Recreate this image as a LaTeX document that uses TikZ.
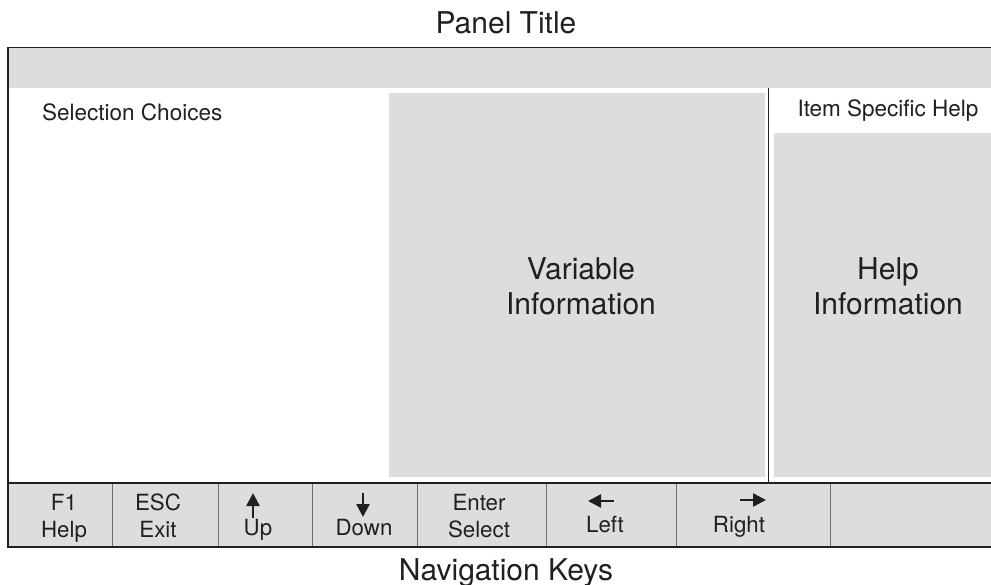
\documentclass[tikz,border=0pt]{standalone}
\usepackage{fontspec}
\setmainfont{TeX Gyre Heros}
\usepackage{tikz}
\usetikzlibrary{arrows.meta, positioning}
\definecolor{panelgray}{RGB}{220,221,223}
\definecolor{ink}{RGB}{35,31,32}
\tikzset{x=1pt, y=-1pt, panel/.style={fill=panelgray, draw=none, inner sep=0pt, anchor=north west}, label/.style={text=ink, inner sep=0pt, anchor=base, align=center}, bigtext/.style={label, font=\fontsize{30}{35}\selectfont}, midtext/.style={label, font=\fontsize{22.5}{27}\selectfont}, keytext/.style={label, font=\fontsize{22.3}{27}\selectfont}, frame/.style={draw=ink, line width=1.3pt}, keyline/.style={draw=ink!65, line width=1pt}, keyarrow/.style={draw=ink, line width=2.5pt, -{Triangle[width=13pt, length=13pt]}}}

\begin{document}
\begin{tikzpicture}
	\useasboundingbox[fill=white] (0,0) rectangle (991,585);
	\node[panel, minimum width=1002pt, minimum height=40.5pt] (Title Bar) at (8,47.5) {};
	\node[panel, minimum width=376pt, minimum height=384pt] (Variable) at (389,93) {};
	\node[panel, minimum width=236pt, minimum height=344pt] (Help) at (774,133) {};
	\node[panel, minimum width=1002pt, minimum height=64pt] (Keys) at (8,483) {};
	
	\foreach \x in {112, 218, 312, 417, 546, 676, 830}
		\draw[keyline] (\x,483) -- (\x,547);
	\draw[frame] (Title Bar.north west) rectangle (1010,547);
	\draw[frame] (Keys.north west) -- (Keys.north east);
	\draw[frame] (768.5,88) -- (768.5,483);
	
	\node[bigtext] (Panel Title) at (506,34) {Panel Title};
	\node[bigtext] (Navigation Keys) at (506,580) {Navigation Keys};
	\node[midtext, anchor=base west] (Choices) at (42,120.7) {Selection Choices};
	\node[midtext] (Item Help) at (888,116.7) {Item Specific Help};
	\node[bigtext] (Variable Info) at (581,315) {Variable\\Information};
	\node[bigtext] (Help Info) at (888,315) {Help\\Information};
	
	\node[keytext] (F1) at (64,537) {F1\\Help};
	\node[keytext] (ESC) at (158,537) {ESC\\Exit};
	\node[keytext] (Up) at (258,535) {Up};
	\node[keytext] (Down) at (364,535) {Down};
	\node[keytext] (Enter) at (479,537) {Enter\\Select};
	\node[keytext] (Left) at (605,532) {Left};
	\node[keytext] (Right) at (739,532) {Right};
	
	\draw[keyarrow] (253,518) -- (253,493);
	\draw[keyarrow] (363,493) -- (363,517);
	\draw[keyarrow] (614,501) -- (588,501);
	\draw[keyarrow] (740,500) -- (766,500);
\end{tikzpicture}
\end{document}
